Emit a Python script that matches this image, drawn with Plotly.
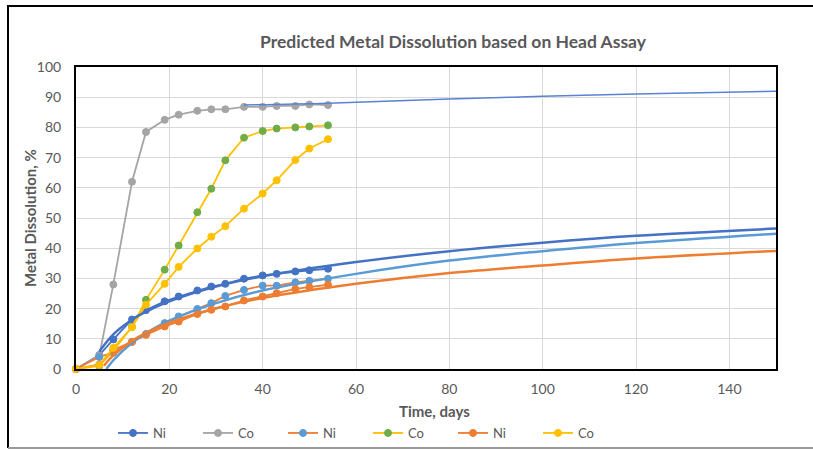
import plotly.graph_objects as go

# ---- data ----
days = [0, 5, 8, 12, 15, 19, 22, 26, 29, 32, 36, 40, 43, 47, 50, 54]
ni_1 = [0, 4.6, 9.8, 16.4, 19.5, 22.4, 24.0, 26.0, 27.3, 28.2, 29.9, 31.0, 31.5, 32.3, 32.7, 33.2]
co_1 = [0, 4.5, 28, 62, 78.5, 82.5, 84.2, 85.5, 86, 86, 86.8, 86.8, 87.1, 87.1, 87.6, 87.4]
ni_2 = [0, 4, 5.4, 9, 11.6, 15.2, 17.4, 19.9, 21.8, 24.2, 26.2, 27.6, 27.6, 28.7, 29.2, 29.9]
co_2 = [0, 1, 6, 14, 22.9, 32.9, 40.9, 51.9, 59.7, 69.1, 76.6, 78.8, 79.6, 80.0, 80.3, 80.7]
ni_3 = [0, 1.5, 6.3, 9, 11.3, 14.1, 15.7, 18.2, 19.6, 20.7, 22.7, 24.0, 25.1, 26.5, 27.1, 27.9]
co_3 = [0, 1.3, 7, 13.8, 21.3, 28.2, 33.8, 39.9, 43.8, 47.3, 53.1, 58.1, 62.5, 69.2, 73.0, 76.1]

# projected (trend) curves
trend_days_1 = [5, 8, 12, 15, 20, 30, 40, 60, 80, 100, 120, 150]
trend_ni_1 = [5.8, 11.5, 16.3, 19.0, 22.4, 27.3, 30.7, 35.4, 39.0, 41.8, 44.1, 46.5]
trend_days_2 = [6.5, 8, 12, 15, 20, 30, 40, 60, 80, 100, 120, 150]
trend_ni_2 = [0, 2.9, 8.7, 11.9, 16.0, 21.8, 26.0, 31.5, 35.9, 39.0, 41.7, 44.8]
trend_days_3 = [6, 8, 12, 15, 20, 30, 40, 60, 80, 100, 120, 150]
trend_ni_3 = [1.1, 4.5, 9.3, 12.0, 15.3, 20.1, 23.5, 28.2, 31.8, 34.3, 36.6, 39.1]
trend_days_co = [36, 54, 80, 100, 120, 150]
trend_co = [87.4, 88.0, 89.4, 90.3, 91.1, 92.0]

x_ticks = [0, 20, 40, 60, 80, 100, 120, 140]
y_ticks = [0, 10, 20, 30, 40, 50, 60, 70, 80, 90, 100]

DBLUE = "#4472C4"
GRAY = "#A5A5A5"
LBLUE = "#5B9BD5"
GREEN = "#70AD47"
ORANGE = "#ED7D31"
YELLOW = "#FFC000"

fig = go.Figure()

def series(y, line_col, mk_col, name):
    fig.add_trace(go.Scatter(
        x=days, y=y, name=name, mode="lines+markers",
        line=dict(color=line_col, width=1.8),
        marker=dict(color=mk_col, size=7, line=dict(color=mk_col, width=1)),
        cliponaxis=False))

def trend(x, y, col, w):
    fig.add_trace(go.Scatter(
        x=x, y=y, mode="lines", showlegend=False, hoverinfo="skip",
        line=dict(color=col, width=w, shape="spline", smoothing=1.0)))

series(ni_1, DBLUE, DBLUE, "Ni")
series(co_1, GRAY, GRAY, "Co")
series(ni_2, ORANGE, LBLUE, "Ni")
series(co_2, YELLOW, GREEN, "Co")
series(ni_3, ORANGE, ORANGE, "Ni")
series(co_3, YELLOW, YELLOW, "Co")

trend(trend_days_1, trend_ni_1, DBLUE, 2.5)
trend(trend_days_2, trend_ni_2, LBLUE, 2.5)
trend(trend_days_3, trend_ni_3, ORANGE, 2.5)
trend(trend_days_co, trend_co, "#5A82D0", 1.5)

L, R, T, B = 76, 37, 67, 81
W, H = 813, 450
pw, ph = W - L - R, H - T - B

def px_x(px):
    return (px - L) / pw

def px_y(py):
    return (H - B - py) / ph

fig.update_layout(
    width=W, height=H,
    margin=dict(l=L, r=R, t=T, b=B, autoexpand=False),
    paper_bgcolor="white", plot_bgcolor="white",
    font=dict(family="Lato, Open Sans, sans-serif", color="#595959", size=12),
    title=dict(text="<b>Predicted Metal Dissolution based on Head Assay</b>",
               x=453 / W, xanchor="center", y=1 - 42 / H, yanchor="middle",
               font=dict(size=17.5, color="#595959")),
    xaxis=dict(range=[0, 150], tickvals=x_ticks, showgrid=True, gridcolor="#D9D9D9",
               gridwidth=1, zeroline=False, showline=True, linecolor="black",
               linewidth=2, mirror=True, ticks="", ticklabelstandoff=6,
               automargin=False, tickfont=dict(size=14, color="#595959")),
    yaxis=dict(range=[0, 100], tickvals=y_ticks, showgrid=True, gridcolor="#D9D9D9",
               gridwidth=1, zeroline=False, showline=True, linecolor="black",
               linewidth=2, mirror=True, ticks="", ticklabelstandoff=10,
               automargin=False, tickfont=dict(size=14, color="#595959")),
    legend=dict(orientation="h", x=px_x(113), xanchor="left", y=px_y(433),
                yanchor="middle", entrywidth=40, entrywidthmode="pixels",
                font=dict(size=13, color="#595959"), bgcolor="rgba(0,0,0,0)"),
    showlegend=True,
)

fig.add_annotation(text="<b>Time, days</b>", x=px_x(434), y=px_y(411), xref="paper",
                   yref="paper", showarrow=False, font=dict(size=15, color="#595959"),
                   xanchor="center", yanchor="middle")
fig.add_annotation(text="<b>Metal Dissolution, %</b>", x=px_x(30), y=px_y(218),
                   xref="paper", yref="paper", showarrow=False, textangle=-90,
                   font=dict(size=15, color="#595959"), xanchor="center", yanchor="middle")

# outer chart frame
fig.add_shape(type="line", xref="paper", yref="paper", x0=px_x(8), x1=px_x(815),
              y0=px_y(6), y1=px_y(6), line=dict(color="black", width=2))
fig.add_shape(type="line", xref="paper", yref="paper", x0=px_x(8), x1=px_x(8),
              y0=px_y(5), y1=px_y(448), line=dict(color="black", width=2))
fig.add_shape(type="line", xref="paper", yref="paper", x0=px_x(8), x1=px_x(815),
              y0=px_y(448), y1=px_y(448), line=dict(color="#9A9A9A", width=2))

fig.write_html(
    "out.html",
    config={"displayModeBar": False},
    post_script="document.body.style.margin='0';"
                "document.documentElement.style.overflow='hidden';",
)
